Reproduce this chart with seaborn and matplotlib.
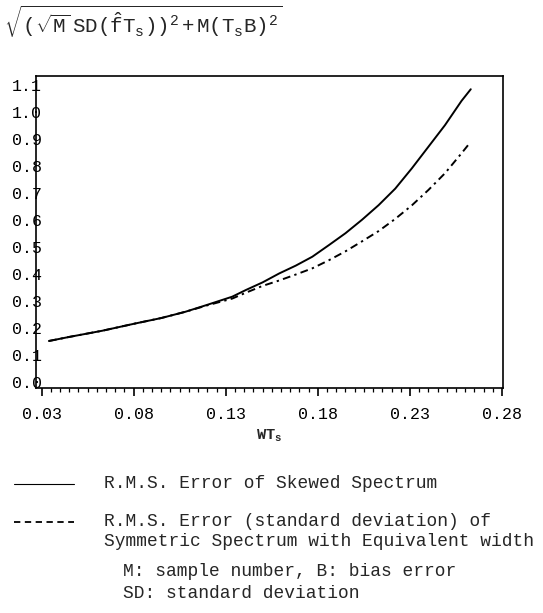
import numpy as np
import pandas as pd
import seaborn as sns
import matplotlib
matplotlib.use("Agg")
import matplotlib.pyplot as plt
from matplotlib.lines import Line2D
from matplotlib.ticker import MultipleLocator

# ---- data ----
x_skewed = [0.034, 0.045, 0.063, 0.081, 0.095, 0.108, 0.120, 0.1335, 0.141, 0.150,
            0.159, 0.168, 0.177, 0.186, 0.195, 0.204, 0.213, 0.222, 0.231, 0.240,
            0.249, 0.258, 0.263]
y_skewed = [0.151, 0.166, 0.189, 0.216, 0.236, 0.259, 0.285, 0.315, 0.340, 0.368,
            0.401, 0.430, 0.463, 0.506, 0.550, 0.600, 0.654, 0.715, 0.790, 0.870,
            0.950, 1.040, 1.083]
x_symm = [0.034, 0.045, 0.063, 0.081, 0.095, 0.108, 0.120, 0.1335, 0.141, 0.150,
          0.159, 0.168, 0.177, 0.186, 0.195, 0.204, 0.213, 0.222, 0.231, 0.240,
          0.249, 0.258, 0.262]
y_symm = [0.151, 0.166, 0.189, 0.216, 0.236, 0.259, 0.283, 0.308, 0.330, 0.355,
          0.375, 0.397, 0.420, 0.450, 0.483, 0.520, 0.558, 0.603, 0.653, 0.710,
          0.772, 0.846, 0.880]
x_ticks = [0.03, 0.08, 0.13, 0.18, 0.23, 0.28]
y_ticks = [0.0, 0.1, 0.2, 0.3, 0.4, 0.5, 0.6, 0.7, 0.8, 0.9, 1.0, 1.1]
legend_line1 = "R.M.S. Error of Skewed Spectrum"
legend_line2a = "R.M.S. Error (standard deviation) of"
legend_line2b = "Symmetric Spectrum with Equivalent width"
notes = ["M: sample number, B: bias error", "SD: standard deviation"]

df_sk = pd.DataFrame({"x": x_skewed, "y": y_skewed})
df_sy = pd.DataFrame({"x": x_symm, "y": y_symm})

sns.set_theme(style="white")
MONO = "Liberation Mono"
plt.rcParams["font.family"] = [MONO, "DejaVu Sans"]
plt.rcParams["mathtext.fontset"] = "custom"
plt.rcParams["mathtext.rm"] = MONO
plt.rcParams["mathtext.it"] = MONO
plt.rcParams["mathtext.bf"] = MONO + ":bold"

W, H = 543, 613
fig = plt.figure(figsize=(W / 100, H / 100), dpi=100)
# axes box: x 36..503 px, y 76..388 px
ax = fig.add_axes([36 / W, 1 - 388 / H, (503 - 36) / W, (388 - 76) / H])

sns.lineplot(data=df_sk, x="x", y="y", ax=ax, color="black", lw=1.4,
             estimator=None, sort=False)
sns.lineplot(data=df_sy, x="x", y="y", ax=ax, color="black", lw=1.4,
             estimator=None, sort=False)
ax.lines[-1].set_dashes([4, 2.2, 1.2, 2.2])

ax.set_xlim(0.027, 0.2805)
ax.set_ylim(-0.023, 1.132)
ax.set_xticks(x_ticks)
ax.set_xticklabels([f"{v:.2f}" for v in x_ticks])
ax.xaxis.set_minor_locator(MultipleLocator(0.005))
ax.set_yticks(y_ticks)
ax.set_yticklabels([f"{v:.1f}" for v in y_ticks])
ax.tick_params(axis="x", which="major", direction="out", length=6, width=1.2,
               pad=8, labelsize=12, colors="black", bottom=True)
ax.tick_params(axis="x", which="minor", direction="out", length=3, width=0.9,
               bottom=True, colors="black")
ax.tick_params(axis="y", which="major", length=0, pad=-4, labelsize=12,
               colors="black", left=False)
for s in ax.spines.values():
    s.set_color("black")
    s.set_linewidth(1.2)
ax.set_xlabel(r"$\mathbf{WT_s}$", fontsize=11, labelpad=4)
ax.set_ylabel("")

# formula title at top left
fig.text(4 / W, 1 - 34 / H,
         r"$\sqrt{(\sqrt{M}\ SD(\hat{f}T_s))^2+M(T_sB)^2}$",
         fontsize=15, ha="left", va="baseline")

# legend drawn manually
fig.add_artist(Line2D([14 / W, 74 / W], [1 - 484 / H] * 2, color="black",
                      lw=0.8, transform=fig.transFigure))
fig.add_artist(Line2D([14 / W, 74 / W], [1 - 522 / H] * 2, color="black",
                      lw=1.3, dashes=[3.5, 2.5], transform=fig.transFigure))
FS = 12.9
fig.text(104 / W, 1 - 484 / H, legend_line1, fontsize=FS, ha="left", va="center")
fig.text(104 / W, 1 - 522 / H, legend_line2a, fontsize=FS, ha="left", va="center")
fig.text(104 / W, 1 - 541 / H, legend_line2b, fontsize=FS, ha="left", va="center")
fig.text(123 / W, 1 - 571 / H, notes[0], fontsize=FS, ha="left", va="center")
fig.text(123 / W, 1 - 594 / H, notes[1], fontsize=FS, ha="left", va="center")

fig.savefig("out.png", dpi=100, facecolor="white")
